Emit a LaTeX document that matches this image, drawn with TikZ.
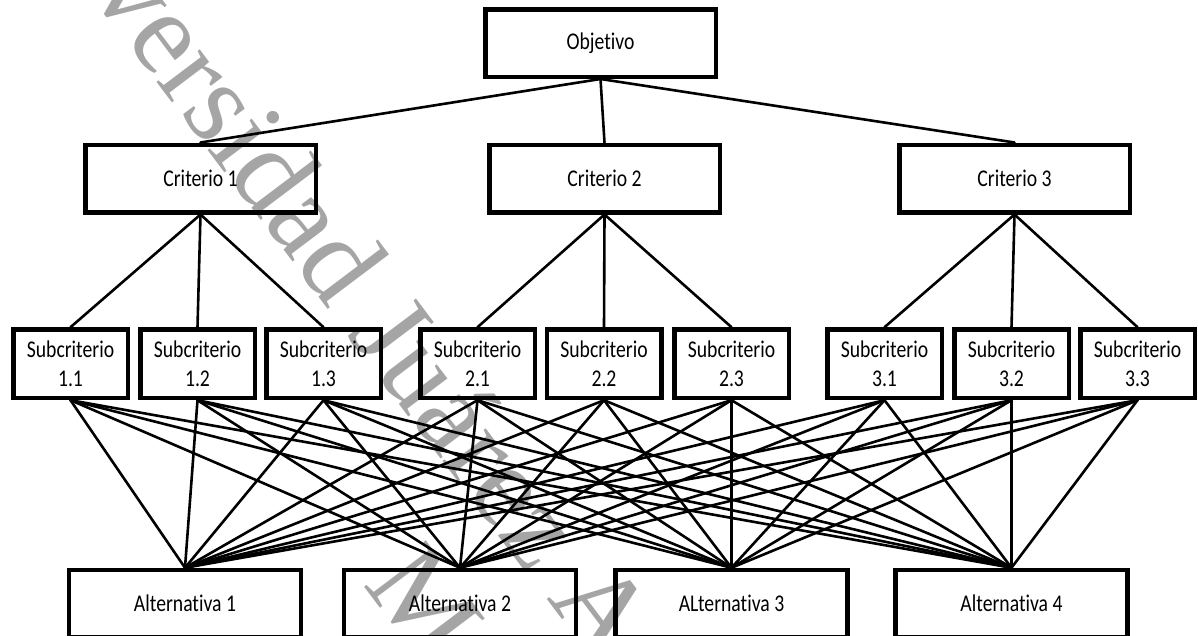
\documentclass[tikz,border=0pt]{standalone}
\usepackage{fontspec}
\setmainfont[Ligatures=NoCommon]{Carlito}
\newfontfamily\wmfont{Liberation Serif}
\definecolor{wmgray}{RGB}{165,165,165}
% box labels are set tall and narrow
\newcommand{\narrowtext}[1]{\scalebox{0.82}[1]{#1}}
\begin{document}
\begin{tikzpicture}[x=1pt,y=-1pt,
  box/.style={draw, line width=4.5pt, inner sep=0pt, align=center,
    font=\fontsize{24}{28.7}\selectfont},
  bigbox/.style={box, minimum width=230.5pt, minimum height=67.5pt},
  subbox/.style={box, minimum width=114.5pt, minimum height=68.5pt},
  altbox/.style={box, minimum width=232pt, minimum height=67pt},
  conn/.style={line width=2.6pt, line cap=round},
  wm/.style={text=wmgray, inner sep=0pt, rotate=-53, anchor=base west,
    font=\wmfont\fontsize{118}{135}\selectfont}
]
\useasboundingbox (0,0) rectangle (1198,635);

% background watermark
\begin{scope}
  \clip (0,0) rectangle (1198,635);
  \node[wm] (wm1) at (-18,-150) {Universidad Juárez Autónoma de Tabasco.};
  \node[wm] (wm2) at (362,584) {México.};
\end{scope}

% goal
\node[bigbox] (obj) at (600.5,43) {\narrowtext{Objetivo}};

% criteria
\node[bigbox] (c1) at (200.5,178.5) {\narrowtext{Criterio 1}};
\node[bigbox] (c2) at (604.5,178.5) {\narrowtext{Criterio 2}};
\node[bigbox] (c3) at (1014.5,178.5) {\narrowtext{Criterio 3}};

% sub-criteria
\node[subbox] (s11) at (70.5,363.7)   {\narrowtext{Subcriterio}\\\narrowtext{1.1}};
\node[subbox] (s12) at (197.5,363.7)  {\narrowtext{Subcriterio}\\\narrowtext{1.2}};
\node[subbox] (s13) at (323.5,363.7)  {\narrowtext{Subcriterio}\\\narrowtext{1.3}};
\node[subbox] (s21) at (477.5,363.7)  {\narrowtext{Subcriterio}\\\narrowtext{2.1}};
\node[subbox] (s22) at (604,363.7)    {\narrowtext{Subcriterio}\\\narrowtext{2.2}};
\node[subbox] (s23) at (731.5,363.7)  {\narrowtext{Subcriterio}\\\narrowtext{2.3}};
\node[subbox] (s31) at (884.5,363.7)  {\narrowtext{Subcriterio}\\\narrowtext{3.1}};
\node[subbox] (s32) at (1011.5,363.7) {\narrowtext{Subcriterio}\\\narrowtext{3.2}};
\node[subbox] (s33) at (1137.5,363.7) {\narrowtext{Subcriterio}\\\narrowtext{3.3}};

% alternatives
\node[altbox] (a1) at (185,603.5)    {\narrowtext{Alternativa 1}};
\node[altbox] (a2) at (460,603.5)    {\narrowtext{Alternativa 2}};
\node[altbox] (a3) at (731.5,603.5)  {\narrowtext{ALternativa 3}};
\node[altbox] (a4) at (1011.5,603.5) {\narrowtext{Alternativa 4}};

% goal to criteria
\foreach \c in {c1,c2,c3}
  \draw[conn] (obj.south) -- (\c.north);

% criteria to sub-criteria
\foreach \i in {1,2,3}
  \foreach \j in {1,2,3}
    \draw[conn] (c\i.south) -- (s\i\j.north);

% every sub-criterion to every alternative
\foreach \s in {s11,s12,s13,s21,s22,s23,s31,s32,s33}
  \foreach \a in {a1,a2,a3,a4}
    \draw[conn] (\s.south) -- (\a.north);
\end{tikzpicture}
\end{document}
